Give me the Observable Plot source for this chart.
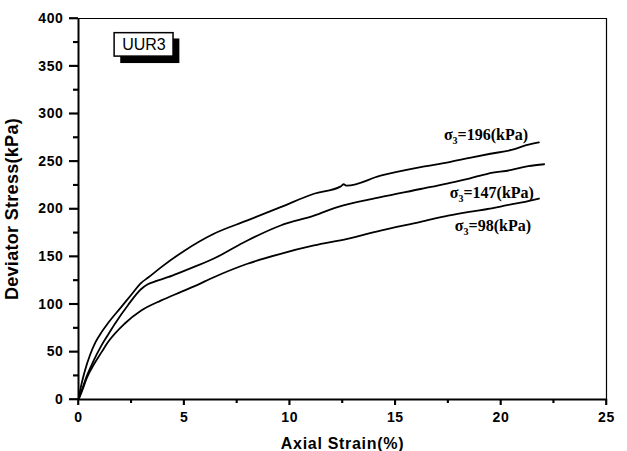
<!DOCTYPE html>
<html><head><meta charset="utf-8">
<script src="https://cdn.jsdelivr.net/npm/d3@7"></script>
<script src="https://cdn.jsdelivr.net/npm/@observablehq/plot@0.6"></script>
<style>
body{margin:0;background:#fff}
g[aria-label="x-axis label"] text {font-size:16px; letter-spacing:0.7px}
g[aria-label="y-axis label"] text {font-size:18px; letter-spacing:0.3px}
g[aria-label="x-axis tick label"] text, g[aria-label="y-axis tick label"] text {letter-spacing:0.6px}
</style>
</head><body><div id="chart"></div>
<script>
// σ3 = 196 kPa
const strain196 = [0, 0.1, 0.3, 0.55, 0.8, 1.1, 1.39, 2.02, 2.5, 2.97, 3.3, 3.92, 5.0, 6.41, 8.0, 9.57, 11.15, 12.4, 12.55, 12.7, 14.3, 16.2, 17.5, 18.58, 19.5, 20.5, 21.2, 21.8];
const stress196 = [0, 12, 30, 47, 60, 71, 80, 97, 110, 122.5, 128, 139, 156, 174, 188, 202, 216, 223.5, 226, 224.5, 235, 244, 249, 254, 258, 262, 267, 270];
// σ3 = 147 kPa
const strain147 = [0, 0.13, 0.4, 0.7, 1.07, 1.4, 1.71, 2.34, 2.97, 3.28, 3.7, 4.23, 4.83, 5.5, 6.41, 8.0, 9.57, 11.15, 12.26, 14.3, 16.2, 17.5, 18.5, 19.37, 20.5, 21.3, 22.05];
const stress147 = [0, 8, 25, 40, 56, 68, 79, 99, 116, 121, 124.5, 128.4, 133.5, 139.5, 148, 167, 182.7, 193, 202, 212.4, 221, 227, 232, 237, 241, 245, 247];
// σ3 = 98 kPa
const strain98 = [0, 0.15, 0.4, 0.76, 1.1, 1.39, 2.18, 2.97, 3.92, 4.83, 5.5, 6.41, 8.0, 9.57, 11.15, 12.73, 14.3, 16.2, 17.5, 18.5, 19.37, 20.3, 21.0, 21.8];
const stress98 = [0, 8, 23, 38, 50, 60, 79.5, 93.4, 104, 112.7, 119, 128.4, 142.5, 153, 161.7, 168.7, 177.4, 186.5, 193, 197, 200, 204, 207, 211];

const seriesNames = ["196", "147", "98"];
const labelText = ["σ3=196(kPa)", "σ3=147(kPa)", "σ3=98(kPa)"];
const labelX = [17.3, 17.58, 17.82];
const labelY = [272, 212, 177];

const xMajor = [0, 5, 10, 15, 20, 25];
const xMinor = [2.5, 7.5, 12.5, 17.5, 22.5];
const yMajor = [0, 50, 100, 150, 200, 250, 300, 350, 400];
const yMinor = [25, 75, 125, 175, 225, 275, 325, 375];

const seriesX = [strain196, strain147, strain98];
const seriesY = [stress196, stress147, stress98];
const data = seriesNames.flatMap((n, k) => seriesX[k].map((x, i) => ({series: n, strain: x, stress: seriesY[k][i]})));
const labels = labelText.map((t, i) => ({text: t, x: labelX[i], y: labelY[i]}));

const chart = Plot.plot({
  width: 627, height: 451,
  marginLeft: 78, marginRight: 21, marginTop: 18, marginBottom: 52,
  style: {fontFamily: "'Liberation Sans', Arial, sans-serif", fontWeight: "bold", fontSize: "14px", color: "black", background: "white"},
  x: {domain: [0, 25]},
  y: {domain: [0, 400]},
  marks: [
    Plot.ruleY([400], {stroke: "black", strokeWidth: 1}),
    Plot.ruleX([25], {stroke: "black", strokeWidth: 1.2}),
    Plot.axisX(xMinor, {tickSize: 4, text: null, label: null, stroke: "black", strokeWidth: 1.6}),
    Plot.axisX(xMajor, {tickSize: 6, tickPadding: 7, label: "Axial Strain(%)", labelAnchor: "center", labelArrow: "none", labelOffset: 49, stroke: "black", strokeWidth: 1.6}),
    Plot.axisY(yMinor, {tickSize: 5, text: null, label: null, stroke: "black", strokeWidth: 1.6}),
    Plot.axisY(yMajor, {tickSize: 9, tickPadding: 6, label: "Deviator Stress(kPa)", labelAnchor: "center", labelArrow: "none", labelOffset: 73, stroke: "black", strokeWidth: 1.6}),
    Plot.ruleX([0], {stroke: "black", strokeWidth: 2}),
    Plot.ruleY([0], {stroke: "black", strokeWidth: 2}),
    Plot.line(data, {x: "strain", y: "stress", z: "series", stroke: "black", strokeWidth: 1.8, curve: "monotone-x"}),
    Plot.text(labels, {x: "x", y: "y", text: "text", textAnchor: "start", lineAnchor: "bottom", fontFamily: "'Liberation Serif', 'Times New Roman', serif", fontSize: 16, fontWeight: "bold"}),
    Plot.rect([0], {x1: 2.0, x2: 4.8, y1: 352.7, y2: 378.5, fill: "black"}),
    Plot.rect([0], {x1: 1.71, x2: 4.5, y1: 360, y2: 384.6, fill: "white", stroke: "black", strokeWidth: 1.5}),
    Plot.text(["UUR3"], {x: 3.1, y: 372.4, fontSize: 16, fontWeight: "normal"})
  ]
});
document.getElementById("chart").append(chart);

// tick marks drawn with Plot's own scales (guarantees visibility)
const sx = chart.scale("x"), sy = chart.scale("y");
const g = d3.select(chart).append("g").attr("stroke", "black").attr("stroke-width", 1.6);
const x0 = sx.apply(0), y0 = sy.apply(0);
xMajor.forEach(v => g.append("line").attr("x1", sx.apply(v)).attr("x2", sx.apply(v)).attr("y1", y0).attr("y2", y0 + 6));
xMinor.forEach(v => g.append("line").attr("x1", sx.apply(v)).attr("x2", sx.apply(v)).attr("y1", y0).attr("y2", y0 + 4));
yMajor.forEach(v => g.append("line").attr("y1", sy.apply(v)).attr("y2", sy.apply(v)).attr("x1", x0).attr("x2", x0 - 9));
yMinor.forEach(v => g.append("line").attr("y1", sy.apply(v)).attr("y2", sy.apply(v)).attr("x1", x0).attr("x2", x0 - 5));

// subscript "3" in σ3 labels
chart.querySelectorAll("text").forEach(el => {
  const t = el.textContent;
  if (t.startsWith("σ3")) {
    el.textContent = "";
    const ns = "http://www.w3.org/2000/svg";
    const a = document.createElementNS(ns, "tspan"); a.textContent = "σ";
    const b = document.createElementNS(ns, "tspan"); b.textContent = "3"; b.setAttribute("dy", "4"); b.setAttribute("font-size", "10");
    const c = document.createElementNS(ns, "tspan"); c.textContent = t.slice(2); c.setAttribute("dy", "-4");
    el.append(a, b, c);
  }
});
</script>
</body></html>
